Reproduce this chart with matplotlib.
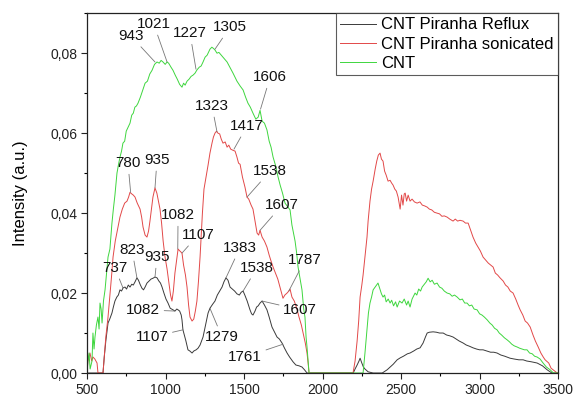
import matplotlib
matplotlib.use("Agg")
import matplotlib.pyplot as plt
from matplotlib.ticker import MultipleLocator, FuncFormatter

plt.rcParams['font.family'] = ['Liberation Sans', 'DejaVu Sans']

# ---- spectra (wavenumber, intensity) ----
reflux_x = [500, 600, 602, 610, 620, 634, 645, 659, 668, 678, 690, 700, 710, 720, 730, 742, 752, 763, 774, 785,
            795, 806, 818, 828, 838, 850, 860, 870, 882, 895, 908, 920, 933, 946, 958, 968, 978, 990, 1003, 1016,
            1030, 1048, 1060, 1072, 1080, 1090, 1100, 1105, 1111, 1120, 1130, 1143, 1155, 1169, 1180, 1195, 1207,
            1220, 1239, 1255, 1271, 1283, 1300, 1315, 1330, 1345, 1360, 1372, 1385, 1398, 1411, 1425, 1440, 1455,
            1470, 1482, 1494, 1505, 1520, 1538, 1548, 1557, 1570, 1580, 1590, 1602, 1615, 1630, 1646, 1660, 1678,
            1695, 1710, 1725, 1742, 1758, 1774, 1790, 1812, 1830, 1850, 1869, 1885, 1901, 2000, 2100, 2195, 2207,
            2220, 2232, 2239, 2250, 2260, 2270, 2290, 2322, 2380, 2411, 2430, 2450, 2475, 2495, 2515, 2540, 2557,
            2580, 2600, 2621, 2640, 2655, 2666, 2680, 2704, 2725, 2745, 2768, 2790, 2810, 2831, 2850, 2870, 2895,
            2915, 2935, 2958, 2980, 3000, 3022, 3045, 3070, 3090, 3111, 3135, 3160, 3194, 3220, 3250, 3277, 3300,
            3330, 3366, 3400, 3430, 3460, 3500]
reflux_y = [0, 0, 0.0, 0.004, 0.008, 0.0125, 0.0135, 0.015, 0.0165, 0.018, 0.019, 0.0195, 0.0208, 0.0205, 0.0213,
            0.0215, 0.021, 0.022, 0.0215, 0.0222, 0.022, 0.0228, 0.0238, 0.0232, 0.0222, 0.0212, 0.0208, 0.0215,
            0.0225, 0.023, 0.0235, 0.0237, 0.024, 0.0238, 0.023, 0.0225, 0.0215, 0.020, 0.0185, 0.0175, 0.0162,
            0.0158, 0.0155, 0.016, 0.0158, 0.0155, 0.0145, 0.0133, 0.0108, 0.0095, 0.008, 0.0058, 0.0055, 0.005,
            0.0055, 0.0058, 0.0062, 0.007, 0.009, 0.012, 0.015, 0.0162, 0.0172, 0.018, 0.0195, 0.0205, 0.0215,
            0.0228, 0.0238, 0.0232, 0.0215, 0.021, 0.0205, 0.0198, 0.0195, 0.0202, 0.0205, 0.0195, 0.018, 0.0158,
            0.0148, 0.0145, 0.0155, 0.0165, 0.0168, 0.0175, 0.018, 0.017, 0.0158, 0.014, 0.0115, 0.0102, 0.009,
            0.0085, 0.0075, 0.0062, 0.005, 0.004, 0.0028, 0.002, 0.0018, 0.0015, 0.0008, 0, 0, 0, 0, 0.001, 0.002,
            0.003, 0.0037, 0.0025, 0.0015, 0.001, 0.0003, 0, 0, 0.0008, 0.0015, 0.0022, 0.0033, 0.0038, 0.0042,
            0.0048, 0.005, 0.0055, 0.006, 0.0063, 0.0075, 0.009, 0.010, 0.0102, 0.0103, 0.0102, 0.0100, 0.010,
            0.0095, 0.0093, 0.009, 0.0085, 0.008, 0.0075, 0.007, 0.0067, 0.0063, 0.006, 0.0058, 0.0058, 0.0055,
            0.0052, 0.0052, 0.005, 0.0045, 0.0042, 0.0037, 0.0035, 0.0033, 0.0033, 0.003, 0.0028, 0.0025, 0.0018,
            0.0008, 0, 0]

sonic_x = [500, 506, 519, 530, 538, 550, 564, 570, 585, 602, 610, 620, 634, 645, 656, 666, 680, 695, 710, 725,
           740, 755, 765, 774, 785, 795, 806, 820, 838, 848, 857, 870, 882, 892, 901, 912, 920, 933, 945, 955, 965,
           975, 985, 997, 1010, 1022, 1032, 1041, 1050, 1060, 1070, 1080, 1092, 1105, 1115, 1127, 1137, 1147, 1156,
           1169, 1180, 1190, 1200, 1210, 1220, 1235, 1245, 1258, 1271, 1283, 1296, 1305, 1315, 1325, 1334, 1345,
           1355, 1366, 1380, 1392, 1403, 1415, 1430, 1443, 1455, 1465, 1475, 1490, 1506, 1519, 1530, 1545, 1557,
           1570, 1583, 1593, 1602, 1615, 1630, 1646, 1660, 1672, 1685, 1700, 1715, 1729, 1740, 1748, 1760, 1774,
           1785, 1793, 1805, 1820, 1837, 1850, 1865, 1876, 1890, 1901, 1908, 1914, 2000, 2100, 2194, 2207, 2220,
           2230, 2239, 2250, 2258, 2270, 2283, 2290, 2302, 2312, 2322, 2335, 2345, 2355, 2366, 2375, 2385, 2395,
           2405, 2417, 2430, 2440, 2449, 2460, 2470, 2481, 2494, 2503, 2512, 2520, 2526, 2535, 2545, 2557, 2570,
           2585, 2602, 2620, 2635, 2650, 2666, 2680, 2695, 2712, 2729, 2745, 2760, 2775, 2793, 2810, 2831, 2845,
           2860, 2875, 2895, 2910, 2927, 2940, 2958, 2975, 2990, 3005, 3022, 3040, 3055, 3070, 3086, 3100, 3115,
           3130, 3150, 3165, 3180, 3195, 3213, 3230, 3245, 3258, 3275, 3290, 3305, 3322, 3340, 3355, 3373, 3390,
           3405, 3417, 3440, 3455, 3468, 3494, 3500]
sonic_y = [0, 0.003, 0.005, 0.003, 0.004, 0.0035, 0.0025, 0.0, 0, 0.0, 0.004, 0.009, 0.014, 0.019, 0.024, 0.029,
           0.033, 0.036, 0.039, 0.041, 0.0425, 0.043, 0.044, 0.0452, 0.0448, 0.0445, 0.044, 0.0425, 0.041, 0.039,
           0.0365, 0.0345, 0.034, 0.0355, 0.038, 0.0415, 0.044, 0.0463, 0.045, 0.043, 0.041, 0.0375, 0.033, 0.029,
           0.026, 0.0225, 0.0195, 0.018, 0.0205, 0.025, 0.028, 0.031, 0.0305, 0.030, 0.027, 0.0245, 0.0215, 0.017,
           0.014, 0.013, 0.0135, 0.0155, 0.018, 0.023, 0.029, 0.040, 0.046, 0.049, 0.052, 0.055, 0.0575, 0.059,
           0.060, 0.0605, 0.060, 0.0598, 0.0585, 0.0575, 0.0578, 0.0565, 0.057, 0.056, 0.0557, 0.0555, 0.054,
           0.0525, 0.0522, 0.049, 0.0465, 0.044, 0.0435, 0.042, 0.041, 0.038, 0.035, 0.0345, 0.0357, 0.034, 0.033,
           0.0315, 0.0295, 0.028, 0.0265, 0.025, 0.0235, 0.0215, 0.020, 0.0187, 0.0195, 0.020, 0.0205, 0.021,
           0.019, 0.018, 0.016, 0.014, 0.012, 0.010, 0.0075, 0.005, 0.0025, 0, 0, 0, 0, 0.003, 0.008, 0.013, 0.019,
           0.022, 0.0245, 0.029, 0.034, 0.038, 0.043, 0.046, 0.048, 0.051, 0.053, 0.0545, 0.055, 0.0535, 0.053,
           0.0505, 0.0495, 0.048, 0.0482, 0.0475, 0.047, 0.046, 0.0455, 0.044, 0.041, 0.0445, 0.042, 0.0448, 0.045,
           0.043, 0.0445, 0.043, 0.0435, 0.0428, 0.0425, 0.0428, 0.042, 0.0418, 0.0415, 0.041, 0.0408, 0.0402,
           0.040, 0.0398, 0.0392, 0.0393, 0.039, 0.0385, 0.038, 0.0385, 0.038, 0.0382, 0.038, 0.0375, 0.0375, 0.036,
           0.034, 0.0325, 0.0315, 0.0305, 0.029, 0.0282, 0.0275, 0.027, 0.0265, 0.025, 0.0245, 0.0238, 0.023, 0.022,
           0.0215, 0.0205, 0.020, 0.0185, 0.017, 0.0158, 0.0145, 0.013, 0.0125, 0.0115, 0.0095, 0.008, 0.0065,
           0.005, 0.004, 0.0033, 0.0025, 0.0012, 0.0008, 0, 0]

cnt_x = [500, 506, 513, 520, 532, 538, 545, 551, 560, 570, 577, 583, 590, 596, 605, 615, 625, 634, 646, 659, 668,
         678, 691, 700, 710, 720, 729, 740, 750, 762, 774, 785, 795, 805, 815, 825, 840, 857, 870, 885, 900, 914,
         930, 946, 960, 972, 984, 998, 1010, 1020, 1035, 1048, 1062, 1075, 1090, 1105, 1115, 1125, 1137, 1150, 1163,
         1175, 1188, 1200, 1215, 1227, 1239, 1252, 1265, 1283, 1295, 1305, 1315, 1328, 1340, 1355, 1370, 1392, 1410,
         1430, 1455, 1475, 1494, 1510, 1525, 1540, 1557, 1575, 1590, 1602, 1615, 1630, 1646, 1660, 1672, 1685, 1700,
         1717, 1730, 1745, 1761, 1780, 1793, 1805, 1815, 1825, 1835, 1844, 1855, 1869, 1880, 1888, 1895, 1901, 1908,
         1914, 2000, 2100, 2200, 2258, 2270, 2283, 2292, 2302, 2312, 2322, 2335, 2345, 2353, 2365, 2375, 2385, 2395,
         2405, 2418, 2430, 2440, 2452, 2465, 2475, 2490, 2506, 2520, 2535, 2545, 2557, 2570, 2589, 2600, 2612, 2624,
         2634, 2648, 2660, 2672, 2685, 2698, 2712, 2729, 2745, 2760, 2775, 2793, 2810, 2825, 2840, 2857, 2875, 2890,
         2905, 2920, 2935, 2950, 2965, 2984, 3000, 3015, 3030, 3048, 3065, 3080, 3095, 3111, 3125, 3140, 3158, 3175,
         3190, 3205, 3220, 3239, 3255, 3270, 3285, 3302, 3318, 3335, 3350, 3366, 3385, 3404, 3425, 3449, 3470, 3500]
cnt_y = [0.0, 0.003, 0.005, 0.001, 0.003, 0.010, 0.006, 0.009, 0.012, 0.014, 0.011, 0.0175, 0.016, 0.0125, 0.018,
         0.0208, 0.025, 0.029, 0.031, 0.0375, 0.041, 0.0445, 0.050, 0.052, 0.054, 0.0555, 0.0575, 0.058, 0.0605,
         0.0615, 0.0625, 0.0645, 0.065, 0.0665, 0.0668, 0.0675, 0.069, 0.071, 0.0725, 0.073, 0.0748, 0.0757, 0.0772,
         0.0778, 0.0775, 0.0782, 0.0778, 0.0772, 0.0778, 0.0775, 0.0765, 0.0757, 0.0745, 0.0735, 0.0722, 0.0715,
         0.0725, 0.072, 0.073, 0.0735, 0.0742, 0.0745, 0.075, 0.0758, 0.0765, 0.0768, 0.0778, 0.079, 0.0795, 0.081,
         0.0815, 0.0812, 0.0808, 0.080, 0.0802, 0.0795, 0.0788, 0.0778, 0.0765, 0.075, 0.073, 0.0718, 0.0708, 0.069,
         0.0675, 0.0665, 0.065, 0.0635, 0.064, 0.0657, 0.063, 0.0625, 0.0608, 0.058, 0.0565, 0.054, 0.052, 0.049,
         0.047, 0.045, 0.0425, 0.0415, 0.0408, 0.037, 0.035, 0.033, 0.030, 0.0265, 0.024, 0.0208, 0.016, 0.014,
         0.009, 0.0065, 0.003, 0.0, 0, 0, 0, 0.0, 0.005, 0.011, 0.015, 0.0175, 0.019, 0.0208, 0.0215, 0.022, 0.0225,
         0.021, 0.0198, 0.019, 0.0195, 0.0178, 0.0185, 0.0175, 0.0182, 0.0168, 0.0178, 0.0165, 0.018, 0.0175,
         0.0185, 0.017, 0.018, 0.0165, 0.0185, 0.020, 0.0195, 0.021, 0.0205, 0.0215, 0.0222, 0.0228, 0.0237,
         0.0228, 0.0232, 0.0222, 0.0225, 0.0215, 0.0212, 0.0205, 0.020, 0.0198, 0.0192, 0.0195, 0.019, 0.0183,
         0.0185, 0.0175, 0.0175, 0.0168, 0.0170, 0.016, 0.0158, 0.0148, 0.0145, 0.014, 0.0133, 0.0125, 0.012,
         0.0112, 0.0108, 0.010, 0.0095, 0.0088, 0.0083, 0.0078, 0.0072, 0.0068, 0.0065, 0.0062, 0.006, 0.0058,
         0.0058, 0.005, 0.0048, 0.0042, 0.004, 0.0035, 0.0025, 0.0015, 0.0008, 0.0, 0]

series_labels = ["CNT Piranha Reflux", "CNT Piranha sonicated", "CNT"]

# peak labels: (text, text position, target point on curve)
cnt_peaks = [("943", (780, 0.0843), (933, 0.0778)),
             ("1021", (925, 0.0873), (1010, 0.0778)),
             ("1227", (1156, 0.0850), (1194, 0.0760)),
             ("1305", (1411, 0.0865), (1315, 0.0810)),
             ("1606", (1666, 0.0740), (1605, 0.0660))]
sonic_peaks = [("1323", (1296, 0.0668), (1328, 0.0603)),
               ("1417", (1519, 0.0618), (1436, 0.0560)),
               ("1538", (1666, 0.0505), (1519, 0.0440)),
               ("780", (761, 0.0525), (778, 0.0452)),
               ("935", (946, 0.0533), (933, 0.0463)),
               ("1082", (1080, 0.0395), (1078, 0.0310)),
               ("1107", (1207, 0.0345), (1105, 0.0300)),
               ("1607", (1742, 0.0420), (1602, 0.0357)),
               ("1787", (1888, 0.0283), (1785, 0.0205))]
reflux_peaks = [("737", (678, 0.0263), (729, 0.0213)),
                ("823", (787, 0.0308), (818, 0.0238)),
                ("935", (946, 0.0290), (933, 0.0240)),
                ("1082", (857, 0.0158), (1060, 0.0155)),
                ("1107", (914, 0.0090), (1111, 0.0108)),
                ("1279", (1360, 0.0090), (1283, 0.0162)),
                ("1383", (1474, 0.0313), (1385, 0.0238)),
                ("1538", (1583, 0.0263), (1494, 0.0205)),
                ("1607", (1857, 0.0158), (1615, 0.0180)),
                ("1761", (1506, 0.0040), (1748, 0.0072))]

fig = plt.figure(figsize=(5.76, 3.98), dpi=100)
ax = fig.add_axes([0.151, 0.0628, 0.818, 0.904])

ax.plot(reflux_x, reflux_y, color='#3a3a3a', lw=0.7, label=series_labels[0])
ax.plot(sonic_x, sonic_y, color='#e24848', lw=0.7, label=series_labels[1])
ax.plot(cnt_x, cnt_y, color='#3ed63e', lw=0.7, label=series_labels[2])

for lab, txt, pt in cnt_peaks + sonic_peaks + reflux_peaks:
    ax.annotate(lab, xy=pt, xytext=txt, ha='center', va='center', fontsize=11, color='#111111',
                arrowprops=dict(arrowstyle='-', color='#777777', lw=0.6, shrinkA=1, shrinkB=0))

ax.set_xlim(500, 3500)
ax.set_ylim(0, 0.09)
ax.xaxis.set_major_locator(MultipleLocator(500))
ax.xaxis.set_minor_locator(MultipleLocator(250))
ax.yaxis.set_major_locator(MultipleLocator(0.02))
ax.yaxis.set_minor_locator(MultipleLocator(0.01))
ax.yaxis.set_major_formatter(FuncFormatter(lambda v, p: f"{v:.2f}".replace('.', ',')))
ax.tick_params(which='major', direction='out', length=4, width=0.8, labelsize=10, colors='#222222', pad=3)
ax.tick_params(which='minor', direction='out', length=2.5, width=0.8)
for s in ax.spines.values():
    s.set_linewidth(0.9)
    s.set_color('#222222')

ax.set_ylabel("Intensity (a.u.)", fontsize=12)
ax.yaxis.set_label_coords(-0.125, 0.5)

leg = ax.legend(loc='upper right', fontsize=12, frameon=True, fancybox=False, borderpad=0.25,
                labelspacing=0.25, handlelength=2.2, handletextpad=0.3, borderaxespad=0)
leg.get_frame().set_edgecolor('#333333')
leg.get_frame().set_linewidth(0.8)

fig.savefig("out.png", dpi=100)
